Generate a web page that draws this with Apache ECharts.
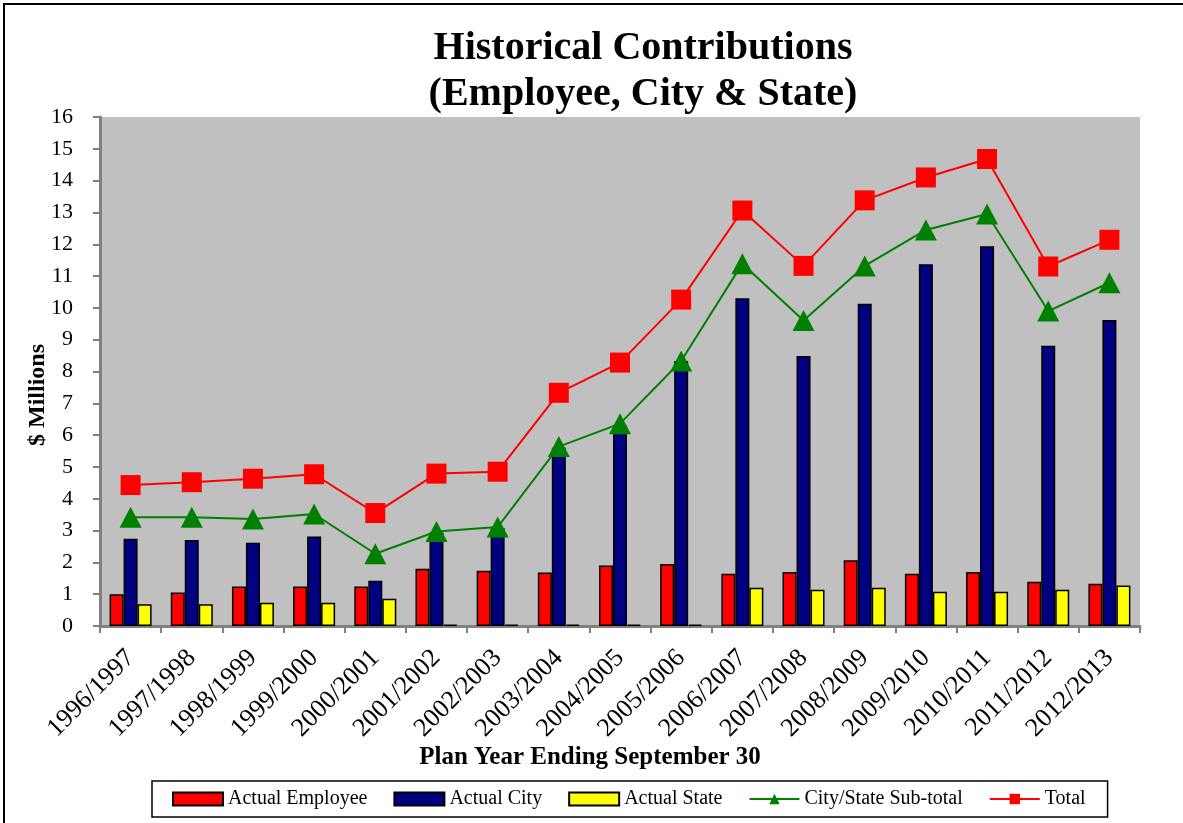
<!DOCTYPE html>
<html>
<head>
<meta charset="utf-8">
<script src="https://cdn.jsdelivr.net/npm/echarts@6/dist/echarts.min.js"></script>
<style>
  html, body { margin: 0; padding: 0; background: #fff; }
  #chart { width: 1183px; height: 823px; }
</style>
</head>
<body>
<div id="chart"></div>
<script>
(function () {
  "use strict";

  var years = [
    "1996/1997", "1997/1998", "1998/1999", "1999/2000", "2000/2001",
    "2001/2002", "2002/2003", "2003/2004", "2004/2005", "2005/2006",
    "2006/2007", "2007/2008", "2008/2009", "2009/2010", "2010/2011",
    "2011/2012", "2012/2013"
  ];
  var employee = [1.0, 1.05, 1.24, 1.24, 1.24, 1.8, 1.74, 1.68, 1.9, 1.95,
    1.64, 1.7, 2.07, 1.64, 1.7, 1.39, 1.33];
  var city = [2.74, 2.7, 2.62, 2.81, 1.42, 2.93, 3.07, 5.6, 6.3, 8.33,
    10.3, 8.49, 10.13, 11.37, 11.94, 8.81, 9.62];
  var state = [0.68, 0.68, 0.73, 0.73, 0.86, 0.04, 0.04, 0.04, 0.04, 0.04,
    1.2, 1.14, 1.2, 1.08, 1.08, 1.14, 1.27];
  var subtotal = [3.42, 3.42, 3.36, 3.52, 2.27, 2.97, 3.11, 5.64, 6.36, 8.33,
    11.39, 9.6, 11.32, 12.45, 12.95, 9.9, 10.79];
  var total = [4.43, 4.52, 4.63, 4.77, 3.55, 4.79, 4.85, 7.33, 8.28, 10.26,
    13.06, 11.32, 13.38, 14.1, 14.68, 11.3, 12.14];

  var serif = "'Liberation Serif', 'Times New Roman', serif";
  var barBorder = { borderColor: "#000", borderWidth: 1.5 };

  var chart = echarts.init(document.getElementById("chart"));

  chart.setOption({
    animation: false,
    backgroundColor: "#fff",
    textStyle: { fontFamily: serif, color: "#000" },
    title: {
      text: "Historical Contributions\n(Employee, City & State)",
      left: 638,
      textAlign: "center",
      top: 21,
      textStyle: {
        fontFamily: serif,
        fontSize: 40,
        fontWeight: "bold",
        lineHeight: 46,
        color: "#000"
      }
    },
    graphic: [
      {
        type: "rect",
        z: -10,
        shape: { x: 4, y: 4, width: 1260, height: 900 },
        style: { fill: "none", stroke: "#000", lineWidth: 2 }
      },
      {
        type: "text",
        x: 38,
        y: 395,
        rotation: Math.PI / 2,
        style: {
          text: "$ Millions",
          fontFamily: serif,
          fontSize: 24,
          fontWeight: "bold",
          fill: "#000",
          align: "center",
          verticalAlign: "middle"
        }
      },
      {
        type: "text",
        x: 590,
        y: 758,
        style: {
          text: "Plan Year Ending September 30",
          fontFamily: serif,
          fontSize: 25,
          fontWeight: "bold",
          fill: "#000",
          align: "center",
          verticalAlign: "middle"
        }
      }
    ],
    legend: {
      left: 152,
      top: 781,
      padding: [8, 22, 8, 20],
      borderColor: "#000",
      borderWidth: 1.5,
      itemGap: 26,
      itemWidth: 50,
      itemHeight: 13,
      textStyle: { fontFamily: serif, fontSize: 20, color: "#000" },
      data: [
        { name: "Actual Employee", icon: "rect" },
        { name: "Actual City", icon: "rect" },
        { name: "Actual State", icon: "rect" },
        "City/State Sub-total",
        "Total"
      ]
    },
    grid: { left: 100, right: 43, top: 117, bottom: 197 },
    xAxis: {
      type: "category",
      data: years,
      axisLine: { lineStyle: { color: "#808080", width: 3 } },
      axisTick: { show: true, alignWithLabel: false, length: 7, lineStyle: { color: "#808080", width: 2 } },
      axisLabel: { rotate: 45, fontFamily: serif, fontSize: 26, color: "#000", margin: 28, interval: 0 },
      splitLine: { show: false }
    },
    yAxis: {
      type: "value",
      min: 0,
      max: 16,
      interval: 1,
      axisLine: { show: true, lineStyle: { color: "#808080", width: 3 } },
      axisTick: { show: true, length: 7, lineStyle: { color: "#808080", width: 2 } },
      axisLabel: { fontFamily: serif, fontSize: 22, color: "#000", margin: 27 },
      splitLine: { show: false },
      splitArea: { show: true, areaStyle: { color: ["#C0C0C0"] } }
    },
    series: [
      {
        name: "Actual Employee",
        type: "bar",
        data: employee,
        barWidth: 14,
        barGap: "0%",
        itemStyle: Object.assign({ color: "#FF0000" }, barBorder)
      },
      {
        name: "Actual City",
        type: "bar",
        data: city,
        barWidth: 14,
        barGap: "0%",
        itemStyle: Object.assign({ color: "#000080" }, barBorder)
      },
      {
        name: "Actual State",
        type: "bar",
        data: state,
        barWidth: 14,
        barGap: "0%",
        itemStyle: Object.assign({ color: "#FFFF00" }, barBorder)
      },
      {
        name: "City/State Sub-total",
        type: "line",
        data: subtotal,
        symbol: "triangle",
        symbolSize: [22, 21],
        lineStyle: { color: "#008000", width: 2 },
        itemStyle: { color: "#008000" },
        z: 5
      },
      {
        name: "Total",
        type: "line",
        data: total,
        symbol: "rect",
        symbolSize: 20,
        lineStyle: { color: "#FF0000", width: 2 },
        itemStyle: { color: "#FF0000" },
        z: 6
      }
    ]
  });

  window.addEventListener("resize", function () {
    chart.resize();
  });
})();
</script>
</body>
</html>
